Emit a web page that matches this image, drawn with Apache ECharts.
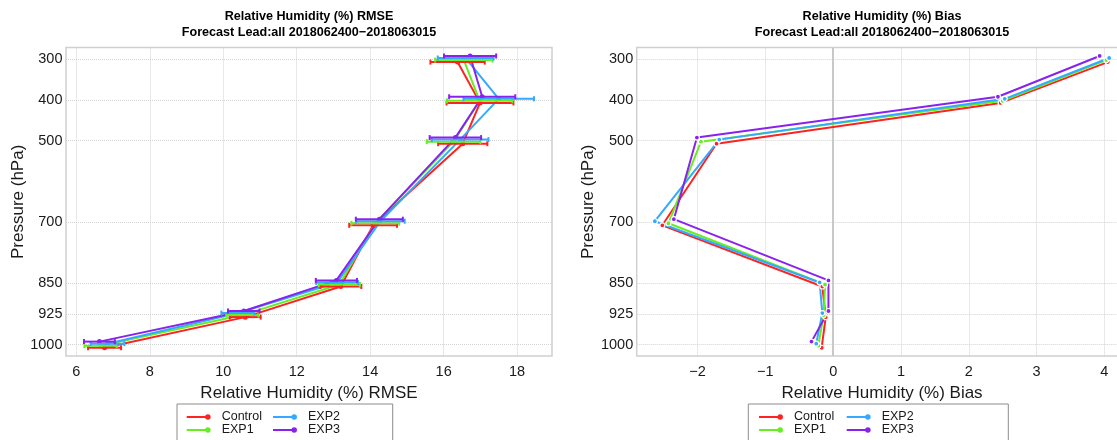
<!DOCTYPE html>
<html>
<head>
<meta charset="utf-8">
<script src="https://cdn.jsdelivr.net/npm/echarts@6/dist/echarts.min.js"></script>
<style>
  html, body { margin: 0; padding: 0; background: #ffffff; }
  #chart { width: 1117px; height: 440px; }
</style>
</head>
<body>
<div id="chart"></div>
<script>
// Pressure levels (hPa) and experiment names
const levels = [300, 400, 500, 700, 850, 925, 1000];
const seriesNames = ['Control', 'EXP1', 'EXP2', 'EXP3'];
const seriesColors = ['#ff2222', '#66ee22', '#33aaff', '#8a22ee'];

// Relative humidity RMSE (%) per level
const rmseControl = [16.38, 16.99, 16.52, 14.08, 13.20, 10.60, 6.77];
const rmseEXP1    = [16.55, 16.98, 16.27, 14.14, 13.16, 10.52, 6.66];
const rmseEXP2    = [16.60, 17.50, 16.45, 14.28, 13.10, 10.40, 6.85];
const rmseEXP3    = [16.72, 17.05, 16.32, 14.25, 13.08, 10.56, 6.63];

// Half-width of the RMSE confidence bars
const rmseCIControl = [0.74, 0.91, 0.67, 0.65, 0.56, 0.42, 0.45];
const rmseCIEXP1    = [0.78, 0.89, 0.73, 0.65, 0.56, 0.44, 0.44];
const rmseCIEXP2    = [0.76, 0.96, 0.77, 0.66, 0.57, 0.45, 0.46];
const rmseCIEXP3    = [0.71, 0.90, 0.70, 0.64, 0.56, 0.43, 0.42];

// Relative humidity bias (%) per level
const biasControl = [4.05, 2.47, -1.72, -2.52, -0.16, -0.11, -0.17];
const biasEXP1    = [4.03, 2.50, -1.95, -2.43, -0.12, -0.14, -0.22];
const biasEXP2    = [4.07, 2.53, -1.68, -2.63, -0.20, -0.16, -0.25];
const biasEXP3    = [3.93, 2.43, -2.01, -2.35, -0.07, -0.07, -0.32];

// Tick labels
const rmseTicks = [6, 8, 10, 12, 14, 16, 18];
const biasTicks = [-2, -1, 0, 1, 2, 3, 4];
const pressureTicks = [300, 400, 500, 700, 850, 925, 1000];

const rmseMeans = [rmseControl, rmseEXP1, rmseEXP2, rmseEXP3];
const rmseCIs = [rmseCIControl, rmseCIEXP1, rmseCIEXP2, rmseCIEXP3];
const biasValues = [biasControl, biasEXP1, biasEXP2, biasEXP3];

// small vertical dodge (hPa) so overlapping series stay readable
const dodge = [7.5, 2.5, -2.5, -7.5];

// axis extents padded by 4% of the data range
function padded(lo, hi) {
  const p = (hi - lo) * 0.04;
  return [lo - p, hi + p];
}
const pRange = padded(Math.min(...levels), Math.max(...levels));
const rmseLo = Math.min(...rmseMeans.map((m, s) => Math.min(...m.map((v, i) => v - rmseCIs[s][i]))));
const rmseHi = Math.max(...rmseMeans.map((m, s) => Math.max(...m.map((v, i) => v + rmseCIs[s][i]))));
const rmseRange = padded(rmseLo, rmseHi);
const biasRange = padded(Math.min(...biasValues.flat()), Math.max(...biasValues.flat()));

const FONT = '"Liberation Sans", Arial, Helvetica, sans-serif';
const TXT = '#1a1a1a';
const plain = v => String(v).replace('-', '\u2212');
const gridLine = { show: true, lineStyle: { type: 'dotted', color: '#d3d3d3', width: 1 } };

function xAxisCfg(gridIndex, range, ticks, name) {
  return {
    type: 'value', gridIndex, min: range[0], max: range[1],
    name, nameLocation: 'middle', nameGap: 24,
    nameTextStyle: { fontSize: 17, color: TXT, fontFamily: FONT },
    axisLine: { show: false },
    axisTick: { show: false, customValues: ticks },
    axisLabel: { customValues: ticks, fontSize: 14.5, margin: 8.5, color: TXT, fontFamily: FONT, formatter: plain },
    splitLine: gridLine
  };
}
function yAxisCfg(gridIndex) {
  return {
    type: 'value', gridIndex, inverse: true, min: pRange[0], max: pRange[1],
    name: 'Pressure (hPa)', nameLocation: 'middle', nameGap: 39, nameRotate: 90,
    nameTextStyle: { fontSize: 17, color: TXT, fontFamily: FONT },
    axisLine: { show: false },
    axisTick: { show: false, customValues: pressureTicks },
    axisLabel: { customValues: pressureTicks, fontSize: 14.5, margin: 3.5, color: TXT, fontFamily: FONT, formatter: plain },
    splitLine: gridLine
  };
}

// horizontal confidence bar with end caps
function renderErrorBar(params, api) {
  const y = api.value(2);
  const a = api.coord([api.value(0), y]);
  const b = api.coord([api.value(1), y]);
  const cap = 2.5;
  const style = { stroke: api.visual('color'), lineWidth: 2 };
  return {
    type: 'group',
    children: [
      { type: 'line', shape: { x1: a[0], y1: a[1], x2: b[0], y2: b[1] }, style },
      { type: 'line', shape: { x1: a[0], y1: a[1] - cap, x2: a[0], y2: a[1] + cap }, style },
      { type: 'line', shape: { x1: b[0], y1: b[1] - cap, x2: b[0], y2: b[1] + cap }, style }
    ]
  };
}

const series = [];
seriesNames.forEach((name, s) => {
  series.push({
    name, type: 'line', xAxisIndex: 0, yAxisIndex: 0, z: 2,
    data: levels.map((p, i) => [rmseMeans[s][i], p + dodge[s]]),
    symbol: 'circle', symbolSize: 5, showSymbol: true,
    lineStyle: { color: seriesColors[s], width: 2 },
    itemStyle: { color: seriesColors[s] }
  });
});
seriesNames.forEach((name, s) => {
  series.push({
    name, type: 'line', xAxisIndex: 1, yAxisIndex: 1, z: 2,
    data: levels.map((p, i) => [biasValues[s][i], p + dodge[s]]),
    symbol: 'circle', symbolSize: 5, showSymbol: true,
    lineStyle: { color: seriesColors[s], width: 2 },
    itemStyle: { color: seriesColors[s], borderColor: '#ffffff', borderWidth: 1.2 }
  });
});
seriesNames.forEach((name, s) => {
  series.push({
    name, type: 'custom', xAxisIndex: 0, yAxisIndex: 0, z: 3,
    renderItem: renderErrorBar,
    encode: { x: [0, 1], y: 2 },
    itemStyle: { color: seriesColors[s] },
    data: levels.map((p, i) => [rmseMeans[s][i] - rmseCIs[s][i], rmseMeans[s][i] + rmseCIs[s][i], p + dodge[s]])
  });
});
// zero reference line on the bias panel
series.push({
  name: 'zero', type: 'line', xAxisIndex: 1, yAxisIndex: 1, z: 1, data: [],
  markLine: {
    silent: true, symbol: 'none', z: 1, animation: false,
    label: { show: false },
    lineStyle: { color: '#c8c8c8', width: 2, type: 'solid' },
    data: [{ xAxis: 0 }]
  }
});

const legendIcon = 'path://M0,3.5L18.3,3.5L18.3,5.5L0,5.5Z M23.5,4.5A2.7,2.7 0 1 1 18.1,4.5A2.7,2.7 0 1 1 23.5,4.5Z';
function legendCfg(left, names) {
  return {
    data: names, left, top: 410.4, orient: 'vertical', padding: 0, itemGap: 0,
    icon: legendIcon, itemWidth: 24, itemHeight: 5.5,
    itemStyle: { borderWidth: 0 },
    textStyle: { fontSize: 12.5, color: TXT, fontFamily: FONT, lineHeight: 12.6, padding: [0, 0, 0, 6] }
  };
}

const titleText = metric => 'Relative Humidity (%) ' + metric + '\nForecast Lead:all 2018062400\u22122018063015';

const leftGrid = { left: 66, top: 47.6, width: 486, height: 308.5 };
// the bias panel runs slightly past the right edge of the page
const rightGrid = { left: 636.7, top: 47.6, right: -10.3, height: 308.5 };
const rightCenter = (636.7 + 1117 + 10.3) / 2;

const titleStyle = { fontSize: 12.6, fontWeight: 'bold', color: '#000', fontFamily: FONT, lineHeight: 15.7 };

const option = {
  animation: false,
  backgroundColor: '#ffffff',
  title: [
    { text: titleText('RMSE'), left: leftGrid.left + leftGrid.width / 2, textAlign: 'center', top: 8.5, padding: 0, textStyle: titleStyle },
    { text: titleText('Bias'), left: rightCenter, textAlign: 'center', top: 8.5, padding: 0, textStyle: titleStyle }
  ],
  grid: [
    Object.assign({ show: true, borderColor: '#d0d0d0', borderWidth: 1.5, backgroundColor: '#fff', outerBoundsMode: 'none', containLabel: false }, leftGrid),
    Object.assign({ show: true, borderColor: '#d0d0d0', borderWidth: 1.5, backgroundColor: '#fff', outerBoundsMode: 'none', containLabel: false }, rightGrid)
  ],
  xAxis: [
    xAxisCfg(0, rmseRange, rmseTicks, 'Relative Humidity (%) RMSE'),
    xAxisCfg(1, biasRange, biasTicks, 'Relative Humidity (%) Bias')
  ],
  yAxis: [yAxisCfg(0), yAxisCfg(1)],
  legend: [
    legendCfg(186.7, ['Control', 'EXP1']),
    legendCfg(273, ['EXP2', 'EXP3']),
    legendCfg(759, ['Control', 'EXP1']),
    legendCfg(846.7, ['EXP2', 'EXP3'])
  ],
  graphic: [
    { type: 'rect', silent: true, z: -1, shape: { x: 177, y: 404, width: 215.7, height: 60 },
      style: { fill: '#fff', stroke: '#8c8c8c', lineWidth: 1 } },
    { type: 'rect', silent: true, z: -1, shape: { x: 748.3, y: 404, width: 260, height: 60 },
      style: { fill: '#fff', stroke: '#8c8c8c', lineWidth: 1 } }
  ],
  series
};

const chart = echarts.init(document.getElementById('chart'), null, { renderer: 'canvas' });
chart.setOption(option);
</script>
</body>
</html>
